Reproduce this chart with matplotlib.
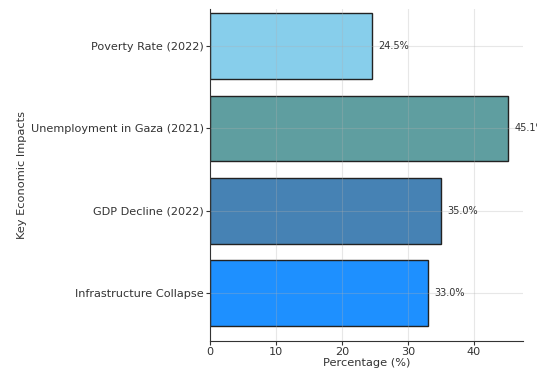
import matplotlib
matplotlib.use('Agg')
import matplotlib.pyplot as plt

# 数据
categories = ['Infrastructure Collapse', 'GDP Decline (2022)',
              'Unemployment in Gaza (2021)', 'Poverty Rate (2022)']
values = [33.0, 35.0, 45.1, 24.5]
colors = ['#1E90FF', '#4682B4', '#5F9EA0', '#87CEEB']
x_ticks = [0, 10, 20, 30, 40]

fig = plt.figure(figsize=(5.37, 3.74), dpi=100)
ax = fig.add_axes([0.391, 0.0880, 0.582, 0.888])

bars = ax.barh(categories, values, color=colors, edgecolor='#222222', linewidth=1.0, height=0.8)

# 数值标签
for bar, v in zip(bars, values):
    ax.text(v + 1, bar.get_y() + bar.get_height() / 2, f'{v:.1f}%',
            va='center', ha='left', fontsize=7, color='#333333')

ax.set_xticks(x_ticks)
ax.set_ylim(-0.58, 3.45)
ax.set_xlabel('Percentage (%)', fontsize=8.2, color='#333333', labelpad=0.5)
ax.set_ylabel('Key Economic Impacts', fontsize=8.2, color='#333333', labelpad=3)
ax.tick_params(axis='both', labelsize=8.1, colors='#333333', length=3, pad=1.2)
ax.grid(True, alpha=0.3)

for side in ['top', 'right']:
    ax.spines[side].set_visible(False)
for side in ['left', 'bottom']:
    ax.spines[side].set_color('#333333')

fig.savefig('out.png', dpi=100)
